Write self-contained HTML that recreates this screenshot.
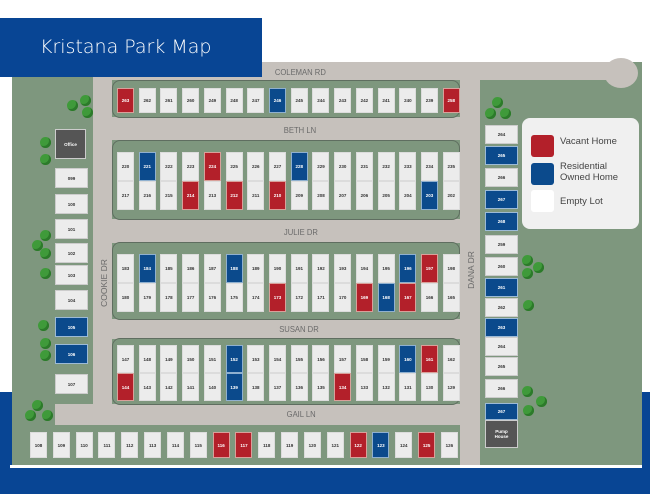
<!DOCTYPE html>
<html><head><meta charset="utf-8"><style>
*{margin:0;padding:0;box-sizing:border-box}
body{width:650px;height:494px;position:relative;background:#fff;overflow:hidden;font-family:"Liberation Sans",sans-serif}
.a{position:absolute}
.road{position:absolute;background:#c6c1bc}
.grn{position:absolute;background:#7e977e}
.blk{position:absolute;background:#7e977e;border:1.5px solid #5f6e60;border-radius:8px}
.row{position:absolute;display:flex;justify-content:space-between}
.l{width:17px;background:#ececec;border:1px solid #dcdcdc;font-size:4.5px;font-weight:bold;color:#333;display:flex;align-items:center;justify-content:center}
.r{background:#b3202a;color:#fff;border-color:#d9a09a}
.b{background:#0b4a8c;color:#fff;border-color:#8fb0cf}
.s{position:absolute;width:33px;height:20px;background:#ececec;border:1px solid #ccc;font-size:4.5px;font-weight:bold;color:#333;display:flex;align-items:center;justify-content:center}
.s.b{background:#0b4a8c;color:#fff;border-color:#9cbad6}
.rd{position:absolute;font-size:8.5px;color:#6a6a6a;transform:scaleX(.9)}
.t{position:absolute;width:11px;height:11px;border-radius:50%;background:#3f9a3a;box-shadow:inset -2px -2px 0 #2c7a2a}
</style></head><body>
<div class="a" style="left:0;top:392px;width:650px;height:102px;background:#084594"></div>
<div class="grn" style="left:12px;top:62px;width:630px;height:403px"></div>
<div class="a" style="left:10px;top:465px;width:632px;height:3px;background:#fff"></div>
<div class="road" style="left:93px;top:62px;width:540px;height:18px"></div>
<div class="road" style="left:604px;top:58px;width:34px;height:30px;border-radius:50%"></div>
<div class="road" style="left:93px;top:62px;width:19px;height:360px"></div>
<div class="road" style="left:460px;top:62px;width:20px;height:403px"></div>
<div class="road" style="left:55px;top:404px;width:420px;height:21px"></div>
<div class="road" style="left:93px;top:117px;width:380px;height:23px"></div>
<div class="road" style="left:93px;top:219px;width:380px;height:24px"></div>
<div class="road" style="left:93px;top:319px;width:380px;height:20px"></div>
<div class="blk" style="left:112px;top:80px;width:348px;height:38px"></div>
<div class="blk" style="left:112px;top:140px;width:348px;height:80px"></div>
<div class="blk" style="left:112px;top:242px;width:348px;height:78px"></div>
<div class="blk" style="left:112px;top:338px;width:348px;height:67px"></div>
<div class="grn" style="left:12px;top:425px;width:448px;height:40px;border-top-right-radius:6px"></div>
<div class="a" style="left:0;top:18px;width:262px;height:59px;background:#084594"></div>
<div class="a" style="left:40px;top:36px;color:#fff;font-size:19px;font-family:'DejaVu Sans',sans-serif;font-weight:300">Kristana Park Map</div>
<div class="rd" style="left:272px;top:67px">COLEMAN RD</div>
<div class="rd" style="left:282px;top:125px">BETH LN</div>
<div class="rd" style="left:282px;top:227px">JULIE DR</div>
<div class="rd" style="left:277px;top:324px">SUSAN DR</div>
<div class="rd" style="left:285px;top:409px">GAIL LN</div>
<div class="rd" style="left:80px;top:278px;transform:rotate(-90deg)">COOKIE DR</div>
<div class="rd" style="left:452px;top:265px;transform:rotate(-90deg)">DANA DR</div>
<div class="row" style="left:117px;top:88px;width:343px;height:25px"><div class="l r">263</div><div class="l">262</div><div class="l">261</div><div class="l">260</div><div class="l">249</div><div class="l">248</div><div class="l">247</div><div class="l b">246</div><div class="l">245</div><div class="l">244</div><div class="l">243</div><div class="l">242</div><div class="l">241</div><div class="l">240</div><div class="l">239</div><div class="l r">258</div></div>
<div class="row" style="left:117px;top:152px;width:343px;height:29px"><div class="l">220</div><div class="l b">221</div><div class="l">222</div><div class="l">223</div><div class="l r">224</div><div class="l">225</div><div class="l">226</div><div class="l">227</div><div class="l b">228</div><div class="l">229</div><div class="l">230</div><div class="l">231</div><div class="l">232</div><div class="l">233</div><div class="l">234</div><div class="l">235</div></div>
<div class="row" style="left:117px;top:181px;width:343px;height:29px"><div class="l">217</div><div class="l">216</div><div class="l">215</div><div class="l r">214</div><div class="l">213</div><div class="l r">212</div><div class="l">211</div><div class="l r">210</div><div class="l">209</div><div class="l">208</div><div class="l">207</div><div class="l">206</div><div class="l">205</div><div class="l">204</div><div class="l b">203</div><div class="l">202</div></div>
<div class="row" style="left:117px;top:254px;width:343px;height:29px"><div class="l">183</div><div class="l b">184</div><div class="l">185</div><div class="l">186</div><div class="l">187</div><div class="l b">188</div><div class="l">189</div><div class="l">190</div><div class="l">191</div><div class="l">192</div><div class="l">193</div><div class="l">194</div><div class="l">195</div><div class="l b">196</div><div class="l r">197</div><div class="l">198</div></div>
<div class="row" style="left:117px;top:283px;width:343px;height:29px"><div class="l">180</div><div class="l">179</div><div class="l">178</div><div class="l">177</div><div class="l">176</div><div class="l">175</div><div class="l">174</div><div class="l r">173</div><div class="l">172</div><div class="l">171</div><div class="l">170</div><div class="l r">169</div><div class="l b">168</div><div class="l r">167</div><div class="l">166</div><div class="l">165</div></div>
<div class="row" style="left:117px;top:345px;width:343px;height:28px"><div class="l">147</div><div class="l">148</div><div class="l">149</div><div class="l">150</div><div class="l">151</div><div class="l b">152</div><div class="l">153</div><div class="l">154</div><div class="l">155</div><div class="l">156</div><div class="l">157</div><div class="l">158</div><div class="l">159</div><div class="l b">160</div><div class="l r">161</div><div class="l">162</div></div>
<div class="row" style="left:117px;top:373px;width:343px;height:28px"><div class="l r">144</div><div class="l">143</div><div class="l">142</div><div class="l">141</div><div class="l">140</div><div class="l b">139</div><div class="l">138</div><div class="l">137</div><div class="l">136</div><div class="l">135</div><div class="l r">134</div><div class="l">133</div><div class="l">132</div><div class="l">131</div><div class="l">130</div><div class="l">129</div></div>
<div class="row" style="left:30px;top:432px;width:428px;height:26px"><div class="l">108</div><div class="l">109</div><div class="l">110</div><div class="l">111</div><div class="l">112</div><div class="l">113</div><div class="l">114</div><div class="l">115</div><div class="l r">116</div><div class="l r">117</div><div class="l">118</div><div class="l">119</div><div class="l">120</div><div class="l">121</div><div class="l r">122</div><div class="l b">123</div><div class="l">124</div><div class="l r">125</div><div class="l">126</div></div>
<div class="a" style="left:55px;top:129px;width:31px;height:30px;background:#555;border:1px solid #ccc;color:#fff;font-size:4.5px;font-weight:bold;display:flex;align-items:center;justify-content:center">Office</div>
<div class="s" style="left:55px;top:168px">099</div>
<div class="s" style="left:55px;top:194px">100</div>
<div class="s" style="left:55px;top:219px">101</div>
<div class="s" style="left:55px;top:243px">102</div>
<div class="s" style="left:55px;top:265px">103</div>
<div class="s" style="left:55px;top:290px">104</div>
<div class="s b" style="left:55px;top:317px">105</div>
<div class="s b" style="left:55px;top:344px">106</div>
<div class="s" style="left:55px;top:374px">107</div>
<div class="s" style="left:485px;top:125px;height:19px">264</div>
<div class="s b" style="left:485px;top:146px;height:19px">265</div>
<div class="s" style="left:485px;top:168px;height:19px">266</div>
<div class="s b" style="left:485px;top:190px;height:19px">267</div>
<div class="s b" style="left:485px;top:212px;height:19px">268</div>
<div class="s" style="left:485px;top:235px;height:19px">259</div>
<div class="s" style="left:485px;top:257px;height:19px">260</div>
<div class="s b" style="left:485px;top:278px;height:19px">261</div>
<div class="s" style="left:485px;top:298px;height:19px">262</div>
<div class="s b" style="left:485px;top:318px;height:19px">263</div>
<div class="s" style="left:485px;top:337px;height:19px">264</div>
<div class="s" style="left:485px;top:357px;height:19px">265</div>
<div class="s" style="left:485px;top:379px;height:19px">266</div>
<div class="s b" style="left:485px;top:403px;height:17px">267</div>
<div class="a" style="left:485px;top:420px;width:33px;height:28px;background:#555;border:1px solid #ccc;color:#fff;font-size:4.5px;font-weight:bold;display:flex;align-items:center;justify-content:center;text-align:center">Pump<br>House</div>
<div class="a" style="left:522px;top:118px;width:117px;height:111px;background:#f0f0f0;border-radius:8px"></div>
<div class="a" style="left:531px;top:135px;width:23px;height:22px;background:#b3202a;border-radius:3px"></div>
<div class="a" style="left:531px;top:163px;width:23px;height:22px;background:#0b4a8c;border-radius:3px"></div>
<div class="a" style="left:531px;top:190px;width:23px;height:22px;background:#fff;border-radius:3px"></div>
<div class="a" style="left:560px;top:136px;font-size:9.5px;color:#444">Vacant Home</div>
<div class="a" style="left:560px;top:161px;font-size:9.5px;color:#444;line-height:11px">Residential<br>Owned Home</div>
<div class="a" style="left:560px;top:196px;font-size:9.5px;color:#444">Empty Lot</div>
<div class="t" style="left:67px;top:100px"></div><div class="t" style="left:80px;top:95px"></div><div class="t" style="left:82px;top:107px"></div>
<div class="t" style="left:40px;top:137px"></div><div class="t" style="left:40px;top:154px"></div>
<div class="t" style="left:40px;top:230px"></div><div class="t" style="left:32px;top:240px"></div><div class="t" style="left:40px;top:248px"></div><div class="t" style="left:40px;top:268px"></div>
<div class="t" style="left:38px;top:320px"></div><div class="t" style="left:40px;top:338px"></div><div class="t" style="left:40px;top:350px"></div>
<div class="t" style="left:32px;top:400px"></div><div class="t" style="left:25px;top:410px"></div><div class="t" style="left:42px;top:410px"></div>
<div class="t" style="left:492px;top:97px"></div><div class="t" style="left:485px;top:108px"></div><div class="t" style="left:500px;top:108px"></div>
<div class="t" style="left:522px;top:255px"></div><div class="t" style="left:533px;top:262px"></div><div class="t" style="left:522px;top:268px"></div>
<div class="t" style="left:523px;top:300px"></div>
<div class="t" style="left:522px;top:386px"></div><div class="t" style="left:536px;top:396px"></div><div class="t" style="left:523px;top:405px"></div>
</body></html>
